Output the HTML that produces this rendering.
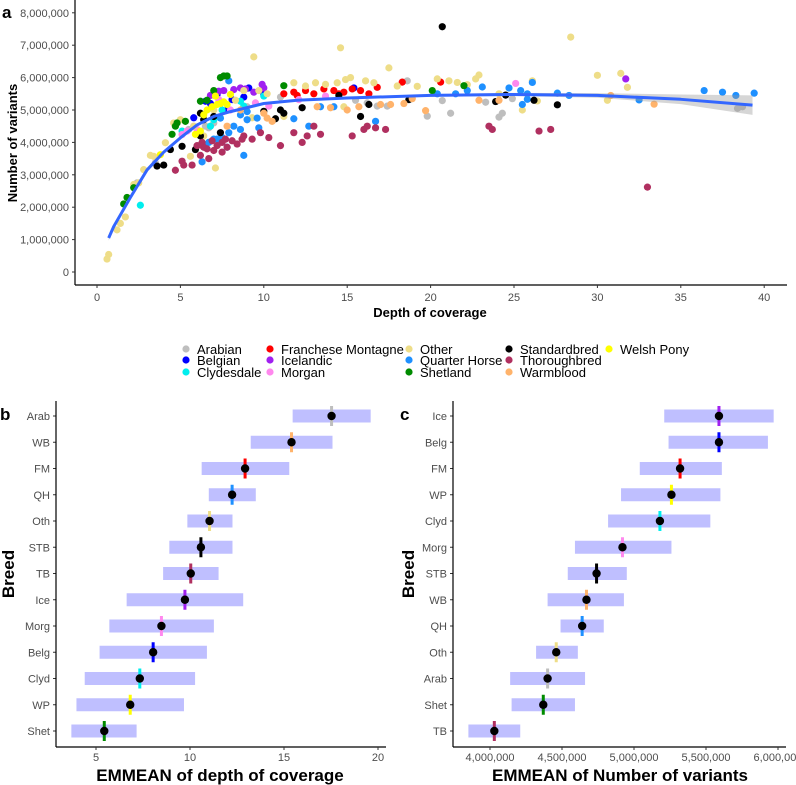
<!DOCTYPE html>
<html><head><meta charset="utf-8">
<style>
body{margin:0;background:#fff;}
svg{display:block;font-family:"Liberation Sans",Arial,sans-serif;}
.tick{fill:#4d4d4d;font-size:11px;}
.ttl{font-weight:bold;fill:#000;}
</style></head>
<body>
<svg id="fig" width="796" height="785" viewBox="0 0 796 785"></svg>
<script>
// ---- Panel a data: [depth, variants (millions)] per breed ----
const breedNames = ["Arabian","Belgian","Clydesdale","Franchese Montagne","Icelandic","Morgan","Other","Quarter Horse","Shetland","Standardbred","Thoroughbred","Warmblood","Welsh Pony"];
const breedColors = ["#BEBEBE","#0000FF","#00EEEE","#FF0000","#A020F0","#FF88EE","#EEDD88","#1E90FF","#008B00","#000000","#B03060","#FFB36B","#FFFF00"];
const ptsArabian = [[3.5,3.37],[2.4,2.75],[6.7,4.45],[6.5,4.5],[7,4.6],[5.5,4.4],[16.2,5.22],[16.8,5.12],[17.4,5.12],[18.6,5.9],[20.7,5.29],[19.8,4.81],[21.2,4.9],[23.3,5.24],[24.1,4.78],[24.3,4.9],[24.9,5.35],[38.4,5.05],[38.7,5.1],[11,5.4],[9,5.1],[15.5,5.3]];
const ptsBelgian = [[5.8,4.76],[6.5,5.27],[7.2,5.48],[8.1,5.32],[9.1,5.68],[15.4,5.68],[10,5.48],[6.8,5.2],[7.8,5.0],[8.8,5.4]];
const ptsClydesdale = [[2.6,2.06],[5.1,4.35],[8.6,5.27],[10,5.43],[8.8,5.12],[7,4.7],[6.8,4.5],[7.5,5.0]];
const ptsFM = [[11.2,5.5],[11.8,5.55],[12.5,5.6],[13,5.5],[13.6,5.65],[14.2,5.6],[14.8,5.55],[15.3,5.65],[15.8,5.6],[16.3,5.5],[16.8,5.7],[18.3,5.86],[20.6,5.86],[12,5.45],[14.5,5.5]];
const ptsIcelandic = [[7.3,5.58],[8.2,5.63],[8.6,5.68],[9.9,5.79],[10,5.68],[6.8,5.45],[7.6,5.6],[9.4,5.55],[8.9,5.65],[31.7,5.96]];
const ptsMorgan = [[5.1,4.24],[5.4,4.35],[5.8,4.5],[7.3,5.32],[9.5,5.22],[10.3,5.12],[12.1,5.32],[13.7,5.43],[25.1,5.82],[6,4.4],[8,5.0]];
const ptsOther = [[0.6,0.4],[0.7,0.54],[1.2,1.3],[1.4,1.5],[1.7,1.7],[2.2,2.7],[2.5,2.75],[2.8,3.16],[3.4,3.57],[4.1,3.99],[5,4.7],[5.6,3.57],[7.1,3.21],[9.4,6.64],[14.6,6.92],[17.5,6.3],[15.2,6.0],[11.8,5.84],[12.5,5.74],[13.1,5.84],[13.7,5.79],[14.4,5.84],[14.9,5.94],[16.1,5.9],[16.6,5.84],[18,5.74],[11.2,4.8],[14.8,5.1],[9.3,4.76],[28.4,7.25],[30,6.07],[31.4,6.13],[31.8,5.7],[30.6,5.3],[26.1,5.9],[25.5,5.0],[26.4,5.28],[22.9,6.08],[22.7,5.96],[21.1,5.9],[20.4,5.96],[21.6,5.85],[22.2,5.78],[19.2,5.73],[24.1,5.5],[8.3,5.3],[9.7,5.6],[10.2,5.5],[6.4,4.2],[7,5.0],[8.8,5.6],[5.8,4.5],[3.2,3.6],[4.6,4.6]];
const ptsQH = [[7.2,4.1],[8.2,4.5],[8.6,4.4],[8.8,3.6],[7.8,3.85],[7.9,4.3],[9,4.7],[9.7,4.45],[9.6,4.75],[11.8,4.73],[12.7,4.5],[14.2,5.1],[13.4,5.1],[16.7,4.65],[6.4,3.9],[6.3,3.4],[7,4.1],[7.4,4.75],[8.6,4.85],[9,4.95],[7.9,5.9],[6.7,4.0],[7.5,4.15],[23.1,5.71],[24.7,5.68],[25.4,5.6],[25.5,5.17],[25.8,5.33],[26.1,5.85],[27.6,5.52],[28.3,5.45],[32.5,5.31],[36.4,5.6],[37.5,5.55],[38.3,5.45],[39.4,5.52],[21.5,5.5],[20.4,5.5],[22.2,5.6],[25.8,5.5]];
const ptsShetland = [[2.2,2.6],[1.8,2.3],[1.6,2.1],[4.5,4.25],[4.7,4.5],[4.8,4.6],[5.3,4.65],[6.2,5.27],[6.6,5.3],[7.4,6.0],[7.6,6.05],[7.8,6.05],[11.2,5.75],[7,5.6],[20.1,5.6],[22,5.75]];
const ptsSTB = [[3.6,3.27],[4,3.3],[4.4,3.78],[5.1,3.88],[6.2,4.2],[5.9,3.78],[6.4,4.7],[7.4,4.3],[10,4.96],[10.7,4.73],[11,5.0],[11.2,4.9],[12.3,5.07],[14.5,5.45],[15.8,4.8],[16.3,5.17],[6.2,4.9],[7,4.8],[20.7,7.57],[23.9,5.26],[24.5,5.46],[26.2,5.3],[27.6,5.16],[18.7,5.32]];
const ptsTB = [[6,3.9],[6.3,4.0],[6.6,3.8],[6.9,4.05],[7.2,3.9],[7.5,4.0],[7.8,3.85],[8.1,4.05],[8.4,3.95],[8.7,4.1],[6.4,3.85],[7.0,3.75],[7.7,4.1],[8.8,4.2],[9.3,4.1],[9.8,4.3],[10.3,4.15],[11.8,4.3],[11,3.9],[12.3,4.0],[12.6,4.2],[13,4.5],[13.4,4.25],[15.3,4.2],[16,4.4],[16.2,4.5],[16.7,4.45],[17.3,4.4],[4.7,3.14],[5.1,3.42],[5.2,3.3],[5.7,3.3],[6.2,3.6],[6.7,3.5],[7.5,3.7],[6.3,3.9],[23.5,4.5],[23.7,4.4],[26.5,4.35],[27.2,4.4],[33,2.62]];
const ptsWB = [[7.8,4.5],[10,4.9],[10.2,4.75],[10.5,4.65],[13.2,5.1],[14,5.07],[15,5.0],[15.7,5.1],[17,5.17],[17.6,5.17],[8.6,5.0],[18.4,5.2],[19.7,4.98],[22.9,5.3],[24.1,5.3],[30.8,5.45],[33.4,5.18],[18.9,5.35]];
const ptsWP = [[3.8,3.62],[5.9,4.25],[6.4,4.85],[6.6,5.0],[6.9,5.1],[7.2,5.17],[7.4,5.2],[7.8,5.17],[7.1,5.43],[8,5.48],[6.2,4.35],[7.6,5.25]];
const breedPts = [ptsArabian,ptsBelgian,ptsClydesdale,ptsFM,ptsIcelandic,ptsMorgan,ptsOther,ptsQH,ptsShetland,ptsSTB,ptsTB,ptsWB,ptsWP];
const fitDepth = [0.7,1,1.5,2,3,4,5,6,7,8,10,12,15,20,25,30,35,39.3];
const fitVar = [1.05,1.4,1.85,2.3,3.15,3.7,4.14,4.54,4.8,4.95,5.2,5.3,5.37,5.45,5.48,5.45,5.33,5.15];
const fitSE = [0.08,0.07,0.05,0.04,0.03,0.03,0.03,0.03,0.03,0.03,0.03,0.03,0.03,0.04,0.05,0.07,0.15,0.3];
const aXTicks = [0,5,10,15,20,25,30,35,40];
const aYTicks = [0,1,2,3,4,5,6,7,8];
const aYLabels = ["0","1,000,000","2,000,000","3,000,000","4,000,000","5,000,000","6,000,000","7,000,000","8,000,000"];

// ---- Panel b data (EMMEAN depth) ----
const bCats = ["Arab","WB","FM","QH","Oth","STB","TB","Ice","Morg","Belg","Clyd","WP","Shet"];
const bMean = [17.53,15.4,12.93,12.24,11.04,10.58,10.04,9.73,8.48,8.04,7.33,6.82,5.44];
const bLow = [15.46,13.23,10.62,11.0,9.86,8.9,8.57,6.63,5.71,5.19,4.40,3.96,3.69];
const bHigh = [19.61,17.58,15.28,13.5,12.26,12.26,11.52,12.83,11.27,10.9,10.27,9.68,7.16];
const bTicks = [5,10,15,20];
// ---- Panel c data (EMMEAN variants, millions) ----
const cCats = ["Ice","Belg","FM","WP","Clyd","Morg","STB","WB","QH","Oth","Arab","Shet","TB"];
const cMean = [5.59,5.59,5.32,5.26,5.18,4.92,4.74,4.67,4.64,4.46,4.40,4.37,4.03];
const cLow = [5.21,5.24,5.04,4.91,4.82,4.59,4.54,4.40,4.49,4.32,4.14,4.15,3.85];
const cHigh = [5.97,5.93,5.61,5.60,5.53,5.26,4.95,4.93,4.79,4.61,4.66,4.59,4.21];
const cTicks = [4,4.5,5,5.5,6];
const cTickLabels = ["4,000,000","4,500,000","5,000,000","5,500,000","6,000,000"];
const abbrColor = {Arab:"#BEBEBE",Belg:"#0000FF",Clyd:"#00EEEE",FM:"#FF0000",Ice:"#A020F0",Morg:"#FF88EE",Oth:"#EEDD88",QH:"#1E90FF",Shet:"#008B00",STB:"#000000",TB:"#B03060",WB:"#FFB36B",WP:"#FFFF00"};

const NS="http://www.w3.org/2000/svg";
const svg=document.getElementById('fig');
function mk(tag,attrs,parent,text){const e=document.createElementNS(NS,tag);for(const k in attrs)e.setAttribute(k,attrs[k]);if(text!==undefined)e.textContent=text;(parent||svg).appendChild(e);return e;}

// ===== Panel a =====
const ax=d=>97+d*16.68, ay=v=>272-v*32.4;
const ga=mk('g',{});


let t=mk('text',{x:2,y:18,'font-size':17,class:'ttl'},svg,'a');


breedPts.forEach((arr,bi)=>{
  const g=mk('g',{},ga);
  
  
  arr.forEach(p=>{
    const c=mk('circle',{cx:ax(p[0]),cy:ay(p[1]),r:3.6,fill:breedColors[bi]},g);
    
    
  });
});
// confidence band
let up='',lo='';
fitDepth.forEach((d,i)=>{up+=(i?'L':'M')+ax(d)+','+ay(fitVar[i]+fitSE[i]);});
for(let i=fitDepth.length-1;i>=0;i--){lo+='L'+ax(fitDepth[i])+','+ay(fitVar[i]-fitSE[i]);}
const band=mk('path',{d:up+lo+'Z',fill:'#999',opacity:0.4},ga);


let fl='';
fitDepth.forEach((d,i)=>{fl+=(i?'L':'M')+ax(d)+','+ay(fitVar[i]);});
const fit=mk('path',{d:fl,fill:'none',stroke:'#3366FF','stroke-width':3,'stroke-linejoin':'round'},ga);


let l=mk('line',{x1:75,y1:0,x2:75,y2:285,stroke:'#000','stroke-width':1.2});


l=mk('line',{x1:75,y1:285,x2:787,y2:285,stroke:'#000','stroke-width':1.2});


aXTicks.forEach(v=>{
  mk('line',{x1:ax(v),y1:285,x2:ax(v),y2:288,stroke:'#333'});
  const e=mk('text',{x:ax(v),y:301,'text-anchor':'middle',class:'tick'},svg,String(v));
  
  
});
aYTicks.forEach((v,i)=>{
  mk('line',{x1:72,y1:ay(v),x2:75,y2:ay(v),stroke:'#333'});
  const e=mk('text',{x:69,y:ay(v)+4,'text-anchor':'end',class:'tick'},svg,aYLabels[i]);
  
  
});
t=mk('text',{x:430,y:317,'text-anchor':'middle','font-size':13,class:'ttl'},svg,'Depth of coverage');


t=mk('text',{x:0,y:0,'text-anchor':'middle','font-size':13,class:'ttl',transform:'translate(17,143) rotate(-90)'},svg,'Number of variants');


// legend
const legCols=[186,270,409,509,609], legRows=[349,360,372];
const lg=mk('g',{});


breedNames.forEach((n,i)=>{
  const col=Math.floor(i/3), row=i%3;
  const g=mk('g',{},lg);
  
  
  mk('circle',{cx:legCols[col],cy:legRows[row],r:3.6,fill:breedColors[i]},g);
  mk('text',{x:legCols[col]+11,y:legRows[row]+5,'font-size':13,fill:'#000'},g,n);
});

// ===== Panels b & c =====
function catPanel(name,label,lx,axisX,axisRight,xs,cats,mean,low,high,ticks,tickLabels,title,titleX){
  const g=mk('g',{});
  
  
  const rowY=i=>416+i*26.25;
  let e=mk('text',{x:lx,y:420,'font-size':17,class:'ttl'},g,label);
  cats.forEach((c,i)=>{
    const y=rowY(i);
    const r=mk('rect',{x:xs(low[i]),y:y-6.5,width:xs(high[i])-xs(low[i]),height:13,fill:'#BFBFFF'},g);
    
    
    const ln=mk('line',{x1:xs(mean[i]),y1:y-10,x2:xs(mean[i]),y2:y+10,stroke:abbrColor[c],'stroke-width':3},g);
    
    
    const d=mk('circle',{cx:xs(mean[i]),cy:y,r:4.2,fill:'#000'},g);
    
    
    mk('line',{x1:axisX-3,y1:y,x2:axisX,y2:y,stroke:'#333'},g);
    const tl=mk('text',{x:axisX-6,y:y+4,'text-anchor':'end',class:'tick'},g,c);
    
    
  });
  mk('line',{x1:axisX,y1:401,x2:axisX,y2:747,stroke:'#000','stroke-width':1.2},g);
  mk('line',{x1:axisX,y1:747,x2:axisRight,y2:747,stroke:'#000','stroke-width':1.2},g);
  ticks.forEach((v,i)=>{
    mk('line',{x1:xs(v),y1:747,x2:xs(v),y2:750,stroke:'#333'},g);
    const tt=mk('text',{x:xs(v),y:761,'text-anchor':'middle',class:'tick'},g,tickLabels[i]);
    
    
  });
  e=mk('text',{x:titleX,y:781,'text-anchor':'middle','font-size':17,class:'ttl'},g,title);
  
  
  e=mk('text',{x:0,y:0,'text-anchor':'middle','font-size':17,class:'ttl',transform:'translate('+(lx+14)+',574) rotate(-90)'},g,'Breed');
  
  
}
catPanel('panel-b','b',0,56,386,v=>96+(v-5)*18.8,bCats,bMean,bLow,bHigh,bTicks,bTicks.map(String),'EMMEAN of depth of coverage',220);
catPanel('panel-c','c',400,453,786,v=>490+(v-4)*144,cCats,cMean,cLow,cHigh,cTicks,cTickLabels,'EMMEAN of Number of variants',620);
</script>
</body></html>
